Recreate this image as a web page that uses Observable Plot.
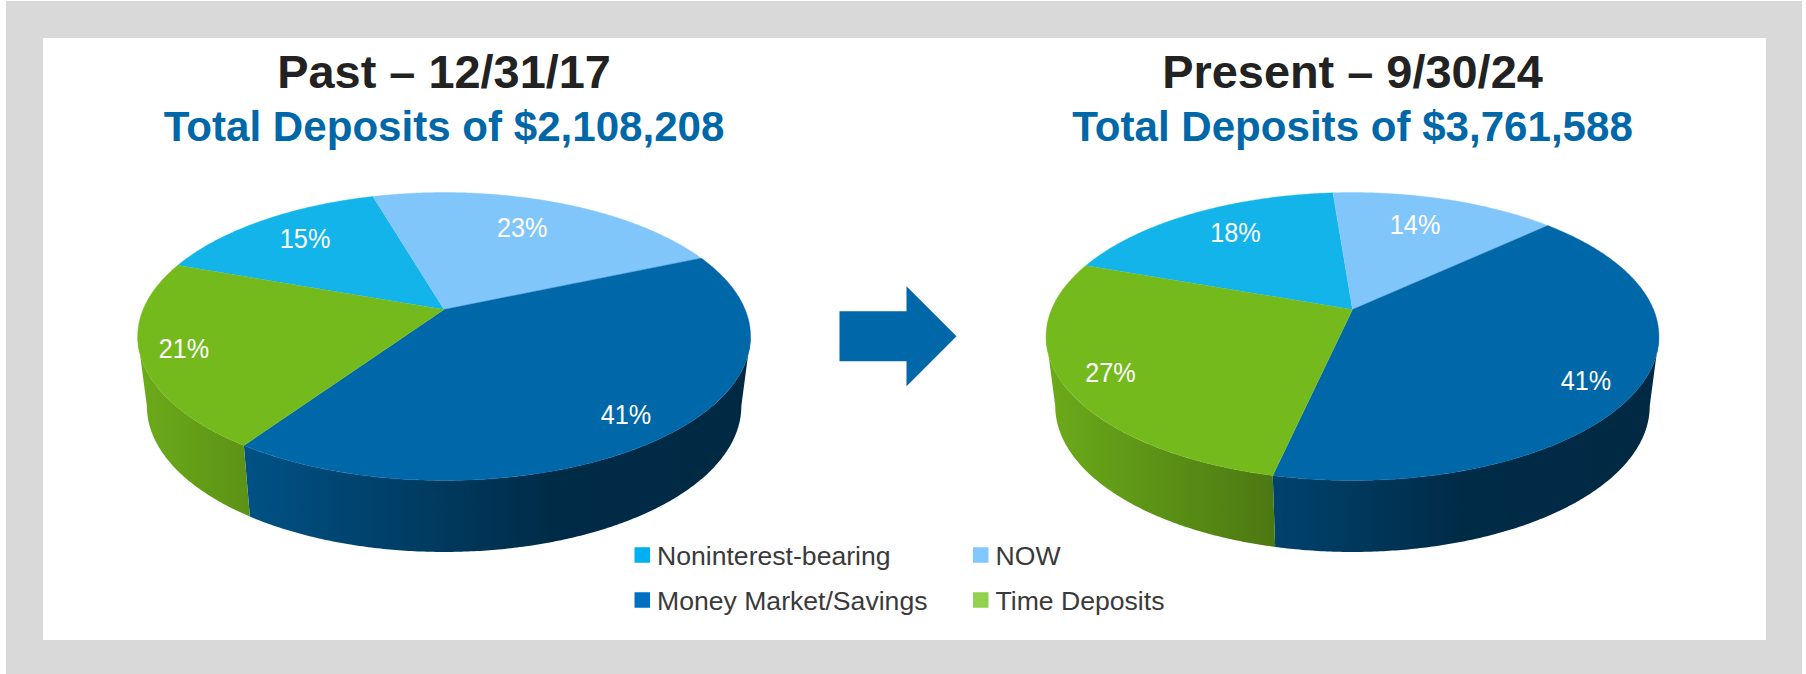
<!DOCTYPE html>
<html>
<head>
<meta charset="utf-8">
<script src="https://cdn.jsdelivr.net/npm/d3@7"></script>
<script src="https://cdn.jsdelivr.net/npm/@observablehq/plot@0.6"></script>
<style>html,body{margin:0;padding:0;background:#fff}svg{display:block}</style>
</head>
<body>
<div id="chart"></div>
<script>
// ---- data ----
const categories = ["Noninterest-bearing", "NOW", "Money Market/Savings", "Time Deposits"];
const pastTitle = "Past – 12/31/17";
const pastSubtitle = "Total Deposits of $2,108,208";
const pastShares = [15, 23, 41, 21];
const pastLabels = ["15%", "23%", "41%", "21%"];
const presentTitle = "Present – 9/30/24";
const presentSubtitle = "Total Deposits of $3,761,588";
const presentShares = [18.3, 14.3, 40.4, 27];   // slice sizes as drawn
const presentLabels = ["18%", "14%", "41%", "27%"];

// ---- styles ----
const sliceColors = ["#12b4ea", "#80c6fb", "#0067a8", "#75ba1c"];
const swatchColors = ["#00b0f0", "#80c8ff", "#0070c0", "#92d050"];
const FONT = "Liberation Sans, Arial, sans-serif";

// ---- layout ----
const W = 1806, H = 674;
// where each percent label sits on its disc: [clock angle, fraction of radius]
const pastLabelAt = [[-42.5, 0.755], [24, 0.717], [141.6, 0.851], [251.6, 0.864]];
const presentLabelAt = [[-35.4, 0.748], [19, 0.72], [123.7, 0.85], [240.2, 0.853]];
const pies = [
  {id: "past", cx: 443.6, start: 289.8, shares: pastShares, labels: pastLabels, labelAt: pastLabelAt, title: pastTitle, subtitle: pastSubtitle},
  {id: "present", cx: 1352, start: 289.7, shares: presentShares, labels: presentLabels, labelAt: presentLabelAt, title: presentTitle, subtitle: presentSubtitle}
];
const apexY = 309, a = 301, b = 138.9, k = 0.1875;   // perspective of the disc
const shrink = 0.97, depthFar = 69, depthNear = 2.5; // the lower rim of the drum
const wallFrom = 100.8, wallTo = 259.2;              // part of the rim facing the viewer

function project(cx, deg, r = 1) {
  const t = deg * Math.PI / 180, X = r * Math.sin(t), Y = -r * Math.cos(t), w = 1 - k * Y;
  return {x: cx + a * X / w, y: apexY + b * Y / w, Y};
}
function lower(cx, p) {
  return {x: cx + (p.x - cx) * shrink, y: p.y + depthFar + depthNear * p.Y};
}
function arc(d0, d1) {
  const n = Math.max(2, Math.ceil(Math.abs(d1 - d0) * 2));
  return d3.range(n + 1).map(i => d0 + (d1 - d0) * i / n);
}

const faces = [], sides = [], labels = [];
for (const pie of pies) {
  let d = pie.start - 360;
  const total = d3.sum(pie.shares);
  categories.forEach((category, i) => {
    const d1 = d + pie.shares[i] / total * 360;
    const key = pie.id + i;
    faces.push({key, category, ...project(pie.cx, d, 0)});
    for (const t of arc(d, d1)) faces.push({key, category, ...project(pie.cx, t)});
    // wall: only the stretch of this slice that faces the viewer
    const s0 = Math.max(d, wallFrom), s1 = Math.min(d1, wallTo);
    if (s1 > s0) {
      const top = arc(s0, s1).map(t => project(pie.cx, t));
      for (const p of top) sides.push({key, x: p.x, y: p.y});
      for (const p of top.slice().reverse()) sides.push({key, ...lower(pie.cx, p)});
    }
    const [la, lr] = pie.labelAt[i];
    const m = project(pie.cx, la, lr);
    labels.push({x: m.x, y: m.y, text: pie.labels[i]});
    d = d1;
  });
}

// horizontal shading of the drum wall
const sideStops = [[0, 0.92], [0.68, 0.42], [1, 0.4]];
const gradId = (pie, i) => `wall-${pie.id}-${i}`;
function shadeDefs(_, {x}) {
  const ns = "http://www.w3.org/2000/svg";
  const defs = document.createElementNS(ns, "defs");
  for (const pie of pies) categories.forEach((c, i) => {
    const g = document.createElementNS(ns, "linearGradient");
    g.setAttribute("id", gradId(pie, i));
    g.setAttribute("gradientUnits", "userSpaceOnUse");
    g.setAttribute("x1", x(pie.cx - 306.5)); g.setAttribute("x2", x(pie.cx + 306.5));
    g.setAttribute("y1", 0); g.setAttribute("y2", 0);
    const base = d3.rgb(sliceColors[i]);
    for (const [o, f] of sideStops) {
      const s = document.createElementNS(ns, "stop");
      s.setAttribute("offset", o);
      s.setAttribute("stop-color", d3.rgb(base.r * f, base.g * f, base.b * f).formatHex());
      g.appendChild(s);
    }
    defs.appendChild(g);
  });
  return defs;
}

// arrow between the pies
const arrowX = [839, 906, 956], arrowY = 335.7, shaftH = 25, headH = 50;
const arrow = [
  [arrowX[0], arrowY - shaftH], [arrowX[1], arrowY - shaftH], [arrowX[1], arrowY - headH],
  [arrowX[2], arrowY], [arrowX[1], arrowY + headH], [arrowX[1], arrowY + shaftH], [arrowX[0], arrowY + shaftH]
].map(([x, y]) => ({x, y}));

// legend
const legendCols = [634.5, 973], legendRows = [555, 600], swatch = 15.5;
const legend = categories.map((name, i) => ({
  name, color: swatchColors[i],
  x: legendCols[i % 2], y: legendRows[i >> 1]
}));

// percent labels are a little taller than Liberation Sans at their width
function narrowLabels(index, scales, values, dims, ctx, next) {
  const g = next(index, scales, values, dims, ctx);
  g.querySelectorAll("text").forEach(t => {
    t.setAttribute("textLength", 50.5);
    t.setAttribute("lengthAdjust", "spacingAndGlyphs");
  });
  return g;
}

const chart = Plot.plot({
  width: W, height: H,
  margin: 0,
  style: {background: "#fff", fontFamily: FONT},
  x: {domain: [0, W], range: [0, W], axis: null},
  y: {domain: [0, H], range: [0, H], axis: null},
  color: {domain: categories, range: sliceColors},
  marks: [
    shadeDefs,
    // grey frame and white panel
    Plot.rect([{}], {x1: () => 6, x2: () => 1802, y1: () => 1, y2: () => H, fill: "#d9d9d9"}),
    Plot.rect([{}], {x1: () => 43, x2: () => 1766, y1: () => 38, y2: () => 640, fill: "#ffffff"}),
    // titles
    Plot.text(pies, {x: "cx", y: () => 87, text: "title", fontSize: 46.9, fontWeight: 700, fill: "#222222", lineAnchor: "bottom"}),
    Plot.text(pies, {x: "cx", y: () => 140, text: "subtitle", fontSize: 42.1, fontWeight: 700, fill: "#0067a8", lineAnchor: "bottom"}),
    // drum walls
    ...pies.flatMap(pie => categories.map((c, i) =>
      Plot.line(sides.filter(s => s.key === pie.id + i), {x: "x", y: "y", fill: `url(#${gradId(pie, i)})`, stroke: "none"})
    )),
    // top faces
    Plot.line(faces, {x: "x", y: "y", z: "key", fill: "category", stroke: "category", strokeWidth: 0.4}),
    // percent labels
    Plot.text(labels, {x: "x", y: "y", dy: -0.5, text: "text", fill: "#ffffff", fontSize: 27.5, render: narrowLabels}),
    // arrow
    Plot.line(arrow, {x: "x", y: "y", fill: "#0067a8", stroke: "none"}),
    // legend
    Plot.rect(legend, {
      x1: d => d.x, x2: d => d.x + swatch,
      y1: d => d.y - swatch / 2, y2: d => d.y + swatch / 2,
      fill: {value: "color", scale: null}
    }),
    Plot.text(legend, {x: d => d.x + swatch + 6.5, y: "y", dy: 1, text: "name", textAnchor: "start", fontSize: 26.6, fill: "#3a3a3a"})
  ]
});
document.getElementById("chart").appendChild(chart);
</script>
</body>
</html>
